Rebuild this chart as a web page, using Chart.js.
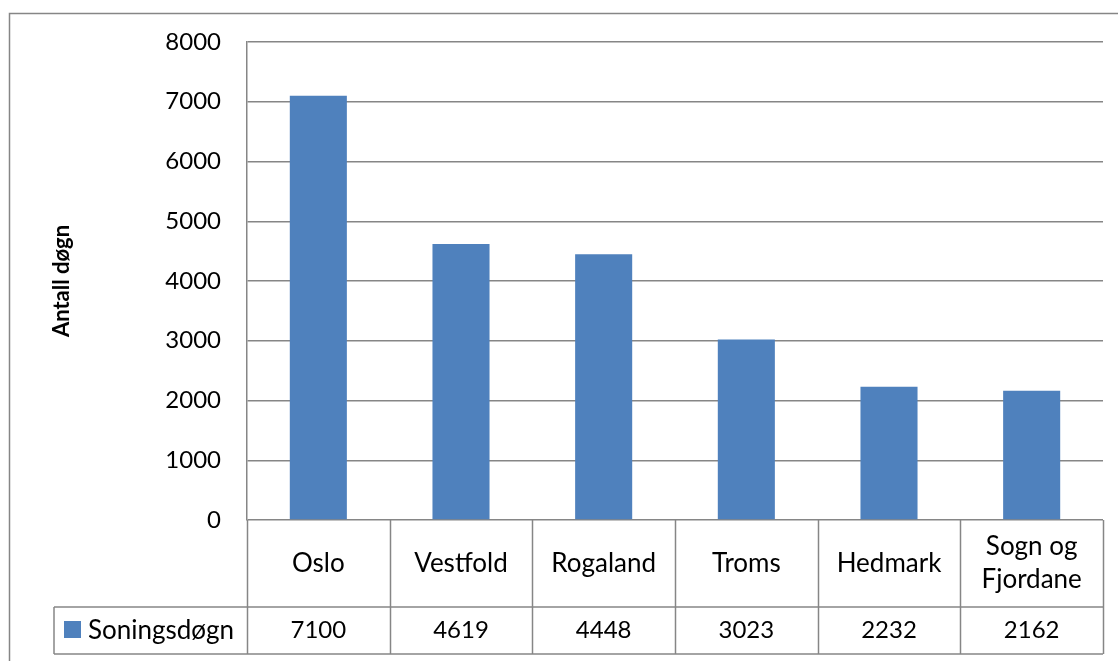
<!DOCTYPE html>
<html>
<head>
<meta charset="utf-8">
<script src="https://cdn.jsdelivr.net/npm/chart.js@4.4.1/dist/chart.umd.min.js"></script>
<style>
  html, body { margin: 0; padding: 0; background: #ffffff; }
  #wrap { width: 1118px; height: 661px; position: relative; }
</style>
</head>
<body>
<div id="wrap"><canvas id="c" width="1118" height="661"></canvas></div>
<script>
// ---- data ----
const categories = ['Oslo', 'Vestfold', 'Rogaland', 'Troms', 'Hedmark', ['Sogn og', 'Fjordane']];
const seriesName = 'Soningsdøgn';
const values = [7100, 4619, 4448, 3023, 2232, 2162];
const yTicks = [0, 1000, 2000, 3000, 4000, 5000, 6000, 7000, 8000];
const yTitle = 'Antall døgn';

const FONT = 'Lato, "Open Sans", "Liberation Sans", sans-serif';
const FSIZE = 24;   // digits
const TSIZE = 26;   // words
const LINE = '#868686';
const BAR = '#4F81BD';

const tablePlugin = {
  id: 'dataTable',
  beforeDraw(chart) {
    const ctx = chart.ctx;
    ctx.save();
    ctx.fillStyle = '#ffffff';
    ctx.fillRect(0, 0, chart.width, chart.height);
    ctx.strokeStyle = LINE;
    ctx.lineWidth = 1.5;
    ctx.strokeRect(9.5, 13.5, chart.width + 20, chart.height + 20);
    ctx.restore();
  },
  afterDraw(chart) {
    const ctx = chart.ctx;
    const xs = chart.scales.x;
    const area = chart.chartArea;
    const n = categories.length;
    const w = (area.right - area.left) / n;
    const rowTop = area.bottom;
    const rowMid = 607;
    const rowBot = 654;
    const legLeft = 54;
    ctx.save();
    ctx.strokeStyle = LINE;
    ctx.lineWidth = 1.5;
    ctx.beginPath();
    ctx.moveTo(legLeft, rowMid); ctx.lineTo(area.right, rowMid);
    ctx.moveTo(legLeft, rowBot); ctx.lineTo(area.right, rowBot);
    for (let i = 0; i <= n; i++) {
      const x = Math.round(area.left + i * w) + 0.5;
      ctx.moveTo(x, rowTop); ctx.lineTo(x, rowBot);
    }
    ctx.moveTo(legLeft, rowMid); ctx.lineTo(legLeft, rowBot);
    ctx.stroke();

    ctx.fillStyle = '#000000';
    ctx.font = FSIZE + 'px ' + FONT;
    ctx.textAlign = 'center';
    ctx.textBaseline = 'middle';
    const yMid = (rowMid + rowBot) / 2;
    values.forEach((v, i) => {
      ctx.fillText(String(v), xs.getPixelForValue(i), yMid);
    });
    ctx.fillStyle = BAR;
    ctx.fillRect(64, 621, 17, 17);
    ctx.fillStyle = '#000000';
    ctx.textAlign = 'left';
    ctx.font = TSIZE + 'px ' + FONT;
    ctx.fillText(seriesName, 88, yMid);
    ctx.restore();
  }
};

new Chart(document.getElementById('c'), {
  type: 'bar',
  data: {
    labels: categories,
    datasets: [{
      label: seriesName,
      data: values,
      backgroundColor: BAR,
      borderWidth: 0,
      categoryPercentage: 1.0,
      barPercentage: 0.4
    }]
  },
  options: {
    responsive: false,
    animation: false,
    devicePixelRatio: 1,
    layout: { padding: { top: 42, right: 15, bottom: 7, left: 0 } },
    plugins: { legend: { display: false }, tooltip: { enabled: false } },
    scales: {
      x: {
        grid: { display: false, drawTicks: false },
        border: { display: false },
        ticks: {
          color: '#000000',
          font: { family: FONT, size: TSIZE, lineHeight: 1.25 },
          maxRotation: 0, autoSkip: false,
          crossAlign: 'center',
          padding: 27
        },
        afterFit(s) { s.height = 134; }
      },
      y: {
        min: 0, max: 8000,
        afterBuildTicks(s) { s.ticks = yTicks.map(v => ({ value: v })); },
        grid: { color: LINE, lineWidth: 1.5, drawTicks: false },
        border: { color: LINE, width: 1.5 },
        ticks: {
          color: '#000000',
          font: { family: FONT, size: FSIZE },
          padding: 26,
          callback: v => String(v)
        },
        title: {
          display: true, text: yTitle, color: '#000000',
          font: { family: FONT, size: 22, weight: 'bold' },
          padding: { top: 49, bottom: 0 }
        },
        afterFit(s) { s.width = 247; }
      }
    }
  },
  plugins: [tablePlugin]
});
</script>
</body>
</html>
